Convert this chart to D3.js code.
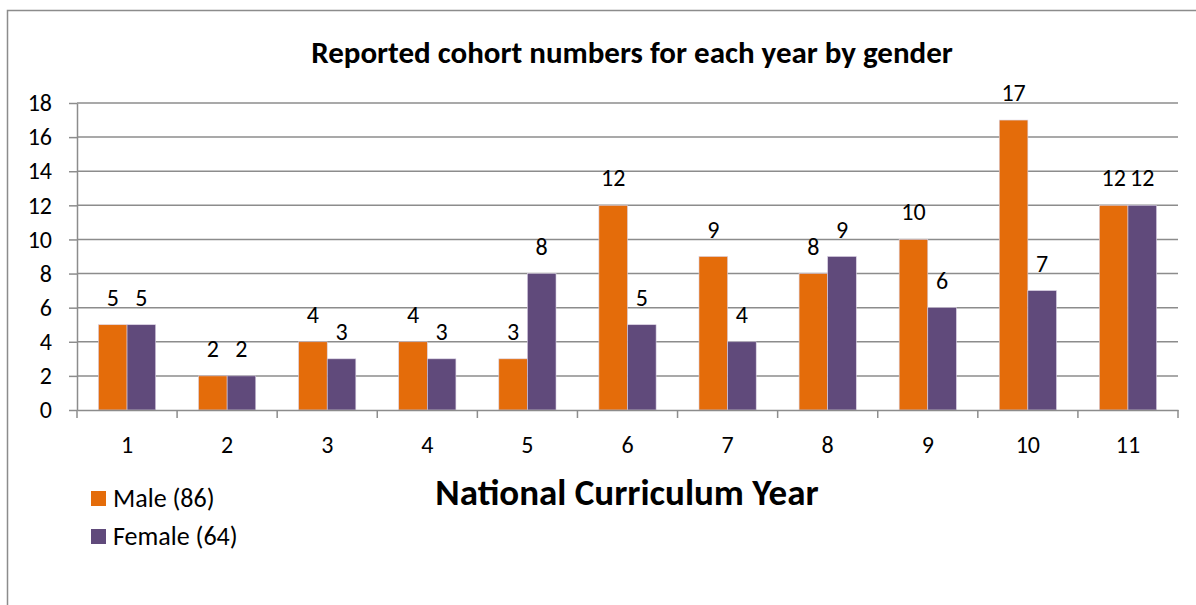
<!DOCTYPE html>
<html>
<head>
<meta charset="utf-8">
<script src="https://cdn.jsdelivr.net/npm/d3@7"></script>
<style>
  body { margin: 0; background: #fff; }
  svg { font-family: Carlito, Calibri, Lato, "Open Sans", sans-serif; }
</style>
</head>
<body>
<div id="chart"></div>
<script>
// Data
const years = ["1", "2", "3", "4", "5", "6", "7", "8", "9", "10", "11"];
const male = [5, 2, 4, 4, 3, 12, 9, 8, 10, 17, 12];
const female = [5, 2, 3, 3, 8, 5, 4, 9, 6, 7, 12];
const seriesNames = ["Male (86)", "Female (64)"];
const yTicks = [0, 2, 4, 6, 8, 10, 12, 14, 16, 18];

const width = 1196;
const height = 605;
const margin = {top: 103, right: 18, bottom: 195, left: 77};
const innerWidth = width - margin.left - margin.right;
const innerHeight = height - margin.top - margin.bottom;

const orange = "#E46C0A";
const purple = "#604A7B";
const gridGray = "#8c8c8c";
const fontStack = "Carlito, Calibri, Lato, 'Open Sans', sans-serif";

const svg = d3.select("#chart")
  .append("svg")
    .attr("width", width)
    .attr("height", height);

// Outer frame (only top and left edges are visible in the picture)
svg.append("path")
  .attr("d", `M7.5,${height} V10.5 H${width}`)
  .attr("fill", "none")
  .attr("stroke", "#8c8c8c")
  .attr("stroke-width", 1.5);

const inner = svg.append("g")
  .attr("transform", `translate(${margin.left}, ${margin.top})`);

// Scales
const xScale = d3.scaleBand()
  .domain(years)
  .range([0, innerWidth]);

const xSub = d3.scaleBand()
  .domain(["m", "f"])
  .range([0, xScale.bandwidth()])
  .paddingOuter(0.75)
  .paddingInner(0);

const yScale = d3.scaleLinear()
  .domain([0, 18])
  .range([innerHeight, 0]);

// Gridlines
inner.append("g")
  .selectAll("line")
  .data(yTicks.filter(d => d > 0))
  .join("line")
    .attr("x1", 0)
    .attr("x2", innerWidth)
    .attr("y1", d => yScale(d))
    .attr("y2", d => yScale(d))
    .attr("stroke", gridGray)
    .attr("stroke-width", 1.5);

// Bars
const groups = inner.selectAll(".year")
  .data(years.map((y, i) => ({year: y, m: male[i], f: female[i]})))
  .join("g")
    .attr("class", "year")
    .attr("transform", d => `translate(${xScale(d.year)}, 0)`);

[["m", orange], ["f", purple]].forEach(([key, color]) => {
  groups.append("rect")
    .attr("x", xSub(key))
    .attr("y", d => yScale(d[key]))
    .attr("width", xSub.bandwidth())
    .attr("height", d => innerHeight - yScale(d[key]))
    .attr("fill", color)
    .attr("stroke", "#d9d0e3")
    .attr("stroke-width", 0.6);

  groups.append("text")
    .attr("x", xSub(key) + xSub.bandwidth() / 2)
    .attr("y", d => yScale(d[key]) - 19)
    .attr("text-anchor", "middle")
    .attr("font-size", 24)
    .attr("fill", "#000")
    .text(d => d[key]);
});

// Axes
const leftAxis = d3.axisLeft(yScale)
  .tickValues(yTicks)
  .tickSize(8)
  .tickSizeOuter(0)
  .tickPadding(17);
const yAxis = inner.append("g").call(leftAxis);

const bottomAxis = d3.axisBottom(xScale).tickSize(0).tickPadding(26);
const xAxis = inner.append("g")
  .attr("transform", `translate(0, ${innerHeight})`)
  .call(bottomAxis);

// category boundary ticks
xAxis.append("g")
  .selectAll("line")
  .data(d3.range(years.length + 1))
  .join("line")
    .attr("x1", i => i * xScale.step())
    .attr("x2", i => i * xScale.step())
    .attr("y1", 0)
    .attr("y2", 8)
    .attr("stroke", gridGray)
    .attr("stroke-width", 1.5);

[yAxis, xAxis].forEach(ax => {
  ax.select(".domain").attr("stroke", gridGray).attr("stroke-width", 1.5);
  ax.selectAll(".tick line").attr("stroke", gridGray).attr("stroke-width", 1.5);
  ax.selectAll("text")
    .attr("font-size", 24)
    .attr("fill", "#000")
    .attr("font-family", fontStack);
});

// Title
svg.append("text")
  .attr("x", 632)
  .attr("y", 63)
  .attr("text-anchor", "middle")
  .attr("font-size", 31)
  .attr("font-weight", "bold")
  .text("Reported cohort numbers for each year by gender");

// X axis title
svg.append("text")
  .attr("x", 627)
  .attr("y", 505)
  .attr("text-anchor", "middle")
  .attr("font-size", 37)
  .attr("font-weight", "bold")
  .text("National Curriculum Year");

// Legend
const legend = svg.append("g")
  .attr("transform", "translate(91, 491)");
legend.selectAll("g")
  .data(seriesNames)
  .join("g")
    .attr("transform", (d, i) => `translate(0, ${i * 38})`)
    .each(function(d, i) {
      const g = d3.select(this);
      g.append("rect")
        .attr("width", 15)
        .attr("height", 15)
        .attr("fill", i === 0 ? orange : purple);
      g.append("text")
        .attr("x", 22)
        .attr("y", 16)
        .attr("font-size", 26)
        .text(d);
    });
</script>
</body>
</html>
